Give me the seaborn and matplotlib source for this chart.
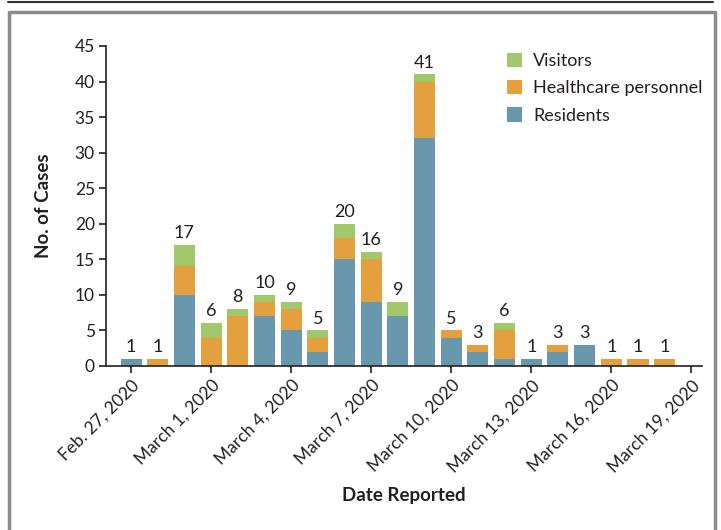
import seaborn as sns
import pandas as pd
import matplotlib.pyplot as plt
from matplotlib.lines import Line2D
from matplotlib.patches import Patch

dates = ['Feb. 27, 2020', 'Feb. 28, 2020', 'Feb. 29, 2020',
         'March 1, 2020', 'March 2, 2020', 'March 3, 2020', 'March 4, 2020',
         'March 5, 2020', 'March 6, 2020', 'March 7, 2020', 'March 8, 2020',
         'March 9, 2020', 'March 10, 2020', 'March 11, 2020', 'March 12, 2020',
         'March 13, 2020', 'March 14, 2020', 'March 15, 2020', 'March 16, 2020',
         'March 17, 2020', 'March 18, 2020', 'March 19, 2020']
residents = [1, 0, 10, 0, 0, 7, 5, 2, 15, 9, 7, 32, 4, 2, 1, 1, 2, 3, 0, 0, 0, 0]
personnel = [0, 1, 4, 4, 7, 2, 3, 2, 3, 6, 0, 8, 1, 1, 4, 0, 1, 0, 1, 1, 1, 0]
visitors = [0, 0, 3, 2, 1, 1, 1, 1, 2, 1, 2, 1, 0, 0, 1, 0, 0, 0, 0, 0, 0, 0]
tick_labels = ['Feb. 27, 2020', 'March 1, 2020', 'March 4, 2020', 'March 7, 2020',
               'March 10, 2020', 'March 13, 2020', 'March 16, 2020', 'March 19, 2020']

COLORS = {
    'Visitors': '#a2c86c',
    'Healthcare personnel': '#e4a03e',
    'Residents': '#6897ae'
}

df = pd.DataFrame({'date': dates, 'Residents': residents,
                   'Healthcare personnel': personnel, 'Visitors': visitors})
df['res_hcp'] = df['Residents'] + df['Healthcare personnel']
df['total'] = df['res_hcp'] + df['Visitors']

sns.set_style('white')
plt.rcParams['font.family'] = ['Lato', 'DejaVu Sans']
TEXT = '#231f20'

fig = plt.figure(figsize=(7.21, 5.30), dpi=100)
ax = fig.add_axes([106 / 721, 1 - 366 / 530, (702 - 106) / 721, (366 - 46) / 530])

# stacked bars drawn as layered cumulative sums
bar_kw = dict(order=dates, width=0.79, saturation=1, linewidth=0, ax=ax)
sns.barplot(data=df, x='date', y='total', color=COLORS['Visitors'], **bar_kw)
sns.barplot(data=df, x='date', y='res_hcp', color=COLORS['Healthcare personnel'], **bar_kw)
sns.barplot(data=df, x='date', y='Residents', color=COLORS['Residents'], **bar_kw)

for i, t in enumerate(df['total']):
    if t > 0:
        ax.text(i, t + 0.55, str(t), ha='center', va='bottom', fontsize=13, color=TEXT)

ax.set_xlim(-0.94, 21.4)
ax.set_ylim(0, 45)
ax.set_yticks(range(0, 46, 5))
ax.set_xticks([dates.index(d) for d in tick_labels])
ax.set_xticklabels(tick_labels, rotation=45, ha='right', rotation_mode='anchor')
ax.tick_params(axis='both', length=5, width=1.2, color=TEXT, labelcolor=TEXT,
               labelsize=12.5, direction='out', bottom=True, left=True, pad=3)

sns.despine(ax=ax)
for s in ['left', 'bottom']:
    ax.spines[s].set_color(TEXT)
    ax.spines[s].set_linewidth(1.2)

ax.set_xlabel('Date Reported', fontsize=13.5, fontweight='bold', color=TEXT, labelpad=9)
ax.set_ylabel('No. of Cases', fontsize=13.5, fontweight='bold', color=TEXT, labelpad=16)

handles = [Patch(facecolor=c, edgecolor='none', label=k) for k, c in COLORS.items()]
ax.legend(handles=handles, loc='upper right', bbox_to_anchor=(1.028, 1.03), frameon=False,
          fontsize=13, handlelength=0.85, handleheight=0.85, handletextpad=0.6,
          labelspacing=0.6, labelcolor=TEXT)

# outer frame
fig.add_artist(Line2D([8 / 721, 713 / 721], [1 - 2 / 530] * 2, color='#333333', lw=1.5))
fig.add_artist(Line2D([9 / 721, 9 / 721, 715 / 721, 715 / 721],
                      [0, 1 - 12 / 530, 1 - 12 / 530, 0], color='#8a8a8a', lw=2.5))

fig.savefig('out.png', dpi=100)
